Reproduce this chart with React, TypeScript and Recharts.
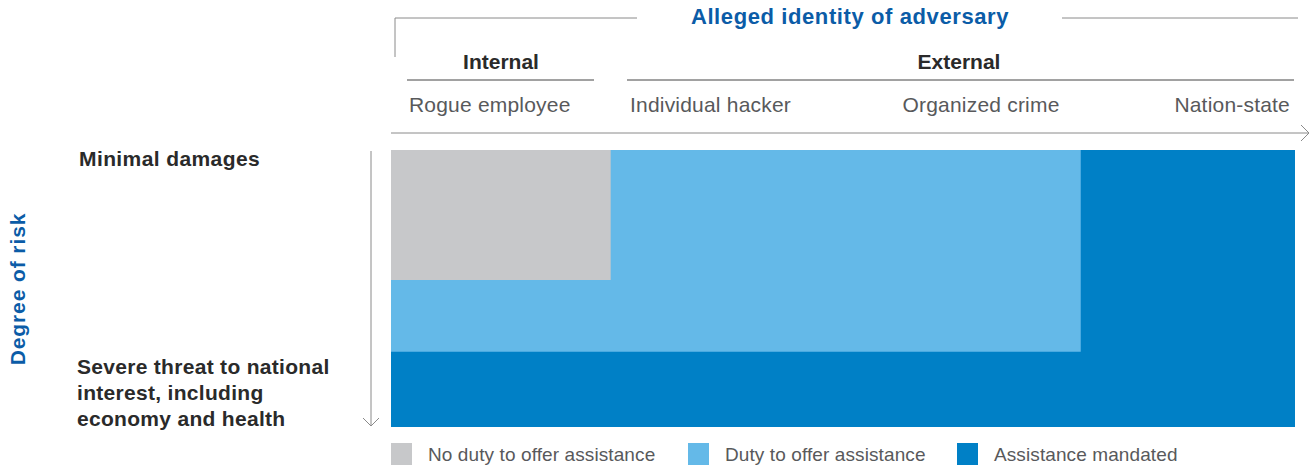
import { ComposedChart, ReferenceArea, XAxis, YAxis } from "recharts";

/* Response matrix: who the adversary is (x) against how much is at stake (y).
   Both axes run 0–100 as a share of the scale; each zone starts at the
   top-left corner and reaches out to its own right / bottom edge, so painting
   them from the largest to the smallest gives the stepped layout. */

const ZONE_NAMES = ["No duty to offer assistance", "Duty to offer assistance", "Assistance mandated"];
const ZONE_COLORS = ["#c7c8ca", "#64b9e8", "#0080c6"];
const ZONE_X_END = [24.3, 76.3, 100];
const ZONE_Y_END = [46.9, 72.8, 100];

const GROUPS = ["Internal", "External"];
const ADVERSARIES = ["Rogue employee", "Individual hacker", "Organized crime", "Nation-state"];
const RISK_LABELS = [["Minimal damages"], ["Severe threat to national", "interest, including", "economy and health"]];

const W = 1311;
const H = 466;
const BLUE = "#0b5ca7";
const INK = "#2a2a2a";
const GREY_TEXT = "#58595b";
const RULE = "#8a8a8a";
const FONT = "'Liberation Sans', Arial, sans-serif";

const zones = ZONE_NAMES.map((name, i) => ({
  name,
  color: ZONE_COLORS[i],
  x2: ZONE_X_END[i],
  y2: ZONE_Y_END[i],
}));

function Decorations() {
  return (
    <svg width={W} height={H} style={{ position: "absolute", left: 0, top: 0, pointerEvents: "none" }}>
      <g fontFamily={FONT}>
        {/* header bracket */}
        <polyline points="395,57 395,18 637,18" fill="none" stroke={RULE} strokeWidth={1} />
        <line x1={1062} y1={18} x2={1298} y2={18} stroke={RULE} strokeWidth={1} />
        <text x={850} y={24} textAnchor="middle" fontSize={22} fontWeight={700} letterSpacing={0.6} fill={BLUE}>
          Alleged identity of adversary
        </text>

        {/* internal / external */}
        <text x={501} y={69} textAnchor="middle" fontSize={21} fontWeight={700} fill={INK}>
          {GROUPS[0]}
        </text>
        <line x1={407} y1={80} x2={594} y2={80} stroke="#444" strokeWidth={1} />
        <text x={959} y={69} textAnchor="middle" fontSize={21} fontWeight={700} fill={INK}>
          {GROUPS[1]}
        </text>
        <line x1={627} y1={80} x2={1294} y2={80} stroke="#444" strokeWidth={1} />

        {/* adversary labels */}
        <g fontSize={21} letterSpacing={0.2} fill={GREY_TEXT}>
          <text x={409} y={112}>{ADVERSARIES[0]}</text>
          <text x={630} y={112}>{ADVERSARIES[1]}</text>
          <text x={981} y={112} textAnchor="middle">{ADVERSARIES[2]}</text>
          <text x={1290} y={112} textAnchor="end">{ADVERSARIES[3]}</text>
        </g>

        {/* x arrow */}
        <line x1={391} y1={133} x2={1309} y2={133} stroke={RULE} strokeWidth={1} />
        <polyline points="1301,125 1309,133 1301,141" fill="none" stroke={RULE} strokeWidth={1} />

        {/* y arrow */}
        <line x1={371} y1={151} x2={371} y2={426} stroke={RULE} strokeWidth={1} />
        <polyline points="363,418 371,426 379,418" fill="none" stroke={RULE} strokeWidth={1} />

        {/* risk labels */}
        <text x={79} y={166} fontSize={21} fontWeight={700} letterSpacing={0.4} fill={INK}>
          {RISK_LABELS[0][0]}
        </text>
        {RISK_LABELS[1].map((l, i) => (
          <text key={l} x={77} y={374 + i * 26} fontSize={21} fontWeight={700} letterSpacing={0.3} fill={INK}>
            {l}
          </text>
        ))}
        <text
          transform="translate(25,289) rotate(-90)"
          textAnchor="middle"
          fontSize={21}
          fontWeight={700}
          letterSpacing={0.9}
          fill={BLUE}
        >
          Degree of risk
        </text>

        {/* legend */}
        {[391, 688, 957].map((x, i) => (
          <g key={ZONE_NAMES[i]}>
            <rect x={x} y={443} width={21} height={22} fill={ZONE_COLORS[i]} />
            <text x={x + 37} y={461} fontSize={19} letterSpacing={0.1} fill={GREY_TEXT}>
              {ZONE_NAMES[i]}
            </text>
          </g>
        ))}
      </g>
    </svg>
  );
}

export default function App() {
  return (
    <div style={{ position: "absolute", left: 0, top: 0, width: W, height: H, background: "#fff" }}>
      <ComposedChart
        width={W}
        height={H}
        data={zones}
        margin={{ top: 150, right: 16, bottom: 39, left: 391 }}
      >
        <XAxis type="number" dataKey="x2" domain={[0, 100]} hide />
        <YAxis type="number" dataKey="y2" domain={[0, 100]} reversed hide />
        {[...zones].reverse().map((z) => (
          <ReferenceArea
            key={z.name}
            x1={0}
            x2={z.x2}
            y1={0}
            y2={z.y2}
            fill={z.color}
            fillOpacity={1}
            stroke="none"
            ifOverflow="visible"
          />
        ))}
      </ComposedChart>
      <Decorations />
    </div>
  );
}
